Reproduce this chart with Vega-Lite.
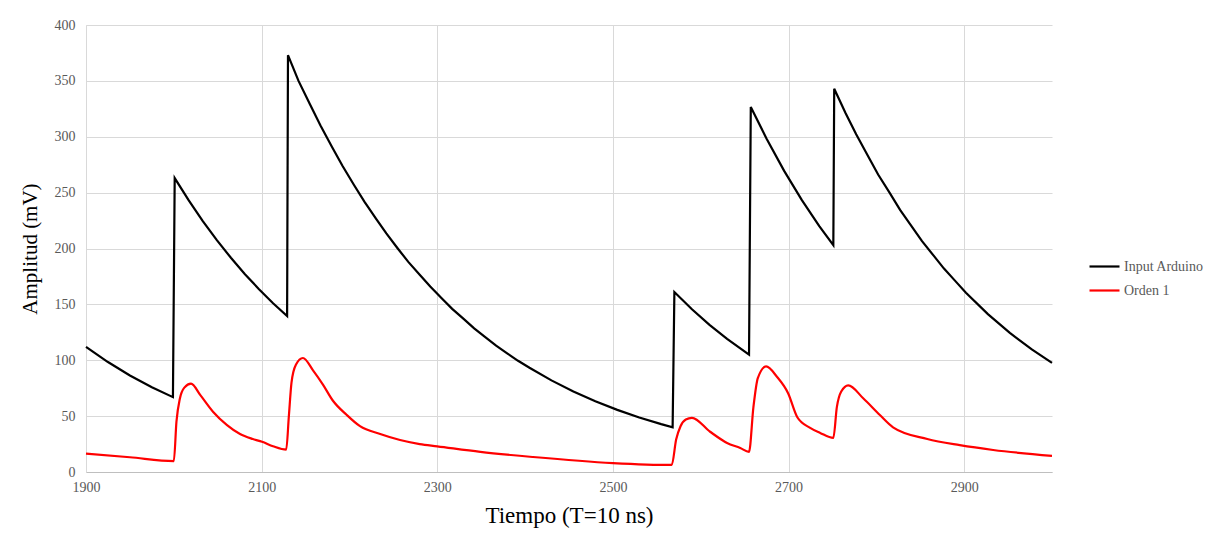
{
  "$schema": "https://vega.github.io/schema/vega-lite/v6.json",
  "autosize": "none",
  "width": 966,
  "height": 447,
  "padding": {"left": 86, "top": 25, "right": 163, "bottom": 68},
  "background": "white",
  "config": {
    "font": "Liberation Serif",
    "view": {"stroke": null}
  },
  "data": {
    "values": [
      {"t": 1900, "v": 112, "s": "Input Arduino"},
      {"t": 1925, "v": 98.4, "s": "Input Arduino"},
      {"t": 1950, "v": 86.4, "s": "Input Arduino"},
      {"t": 1975, "v": 75.9, "s": "Input Arduino"},
      {"t": 1999, "v": 67, "s": "Input Arduino"},
      {"t": 2001, "v": 263, "s": "Input Arduino"},
      {"t": 2017, "v": 243, "s": "Input Arduino"},
      {"t": 2033, "v": 224.5, "s": "Input Arduino"},
      {"t": 2049, "v": 207.5, "s": "Input Arduino"},
      {"t": 2065, "v": 191.7, "s": "Input Arduino"},
      {"t": 2081, "v": 177, "s": "Input Arduino"},
      {"t": 2097, "v": 163.6, "s": "Input Arduino"},
      {"t": 2113, "v": 151, "s": "Input Arduino"},
      {"t": 2129, "v": 139.6, "s": "Input Arduino"},
      {"t": 2130, "v": 373, "s": "Input Arduino"},
      {"t": 2142, "v": 350, "s": "Input Arduino"},
      {"t": 2155, "v": 329, "s": "Input Arduino"},
      {"t": 2167, "v": 310, "s": "Input Arduino"},
      {"t": 2180, "v": 291, "s": "Input Arduino"},
      {"t": 2192, "v": 274, "s": "Input Arduino"},
      {"t": 2205, "v": 257, "s": "Input Arduino"},
      {"t": 2217, "v": 242, "s": "Input Arduino"},
      {"t": 2230, "v": 227, "s": "Input Arduino"},
      {"t": 2242, "v": 213.5, "s": "Input Arduino"},
      {"t": 2255, "v": 200, "s": "Input Arduino"},
      {"t": 2267, "v": 188, "s": "Input Arduino"},
      {"t": 2280, "v": 176.5, "s": "Input Arduino"},
      {"t": 2292, "v": 166, "s": "Input Arduino"},
      {"t": 2305, "v": 155.5, "s": "Input Arduino"},
      {"t": 2317, "v": 146, "s": "Input Arduino"},
      {"t": 2330, "v": 137, "s": "Input Arduino"},
      {"t": 2342, "v": 128.5, "s": "Input Arduino"},
      {"t": 2355, "v": 120.5, "s": "Input Arduino"},
      {"t": 2367, "v": 113, "s": "Input Arduino"},
      {"t": 2380, "v": 106, "s": "Input Arduino"},
      {"t": 2392, "v": 99.5, "s": "Input Arduino"},
      {"t": 2405, "v": 93.3, "s": "Input Arduino"},
      {"t": 2430, "v": 82, "s": "Input Arduino"},
      {"t": 2455, "v": 72, "s": "Input Arduino"},
      {"t": 2480, "v": 63.3, "s": "Input Arduino"},
      {"t": 2505, "v": 55.6, "s": "Input Arduino"},
      {"t": 2530, "v": 48.8, "s": "Input Arduino"},
      {"t": 2555, "v": 42.8, "s": "Input Arduino"},
      {"t": 2568, "v": 40, "s": "Input Arduino"},
      {"t": 2570, "v": 161, "s": "Input Arduino"},
      {"t": 2590, "v": 145.6, "s": "Input Arduino"},
      {"t": 2610, "v": 131.7, "s": "Input Arduino"},
      {"t": 2630, "v": 119.1, "s": "Input Arduino"},
      {"t": 2655, "v": 105, "s": "Input Arduino"},
      {"t": 2657, "v": 326.6, "s": "Input Arduino"},
      {"t": 2675, "v": 298.2, "s": "Input Arduino"},
      {"t": 2695, "v": 269.5, "s": "Input Arduino"},
      {"t": 2715, "v": 243.5, "s": "Input Arduino"},
      {"t": 2735, "v": 220.1, "s": "Input Arduino"},
      {"t": 2751, "v": 203, "s": "Input Arduino"},
      {"t": 2752, "v": 343, "s": "Input Arduino"},
      {"t": 2765, "v": 321, "s": "Input Arduino"},
      {"t": 2777, "v": 302.2, "s": "Input Arduino"},
      {"t": 2790, "v": 283.5, "s": "Input Arduino"},
      {"t": 2802, "v": 266.2, "s": "Input Arduino"},
      {"t": 2815, "v": 250, "s": "Input Arduino"},
      {"t": 2827, "v": 234.5, "s": "Input Arduino"},
      {"t": 2840, "v": 220, "s": "Input Arduino"},
      {"t": 2852, "v": 206.6, "s": "Input Arduino"},
      {"t": 2865, "v": 193.8, "s": "Input Arduino"},
      {"t": 2877, "v": 182, "s": "Input Arduino"},
      {"t": 2890, "v": 170.8, "s": "Input Arduino"},
      {"t": 2902, "v": 160.4, "s": "Input Arduino"},
      {"t": 2927, "v": 141.3, "s": "Input Arduino"},
      {"t": 2952, "v": 124.5, "s": "Input Arduino"},
      {"t": 2977, "v": 109.7, "s": "Input Arduino"},
      {"t": 3000, "v": 97.6, "s": "Input Arduino"},
      {"t": 1900, "v": 16.5, "s": "Orden 1"},
      {"t": 1950, "v": 13.2, "s": "Orden 1"},
      {"t": 2000, "v": 9.8, "s": "Orden 1"},
      {"t": 2003, "v": 45, "s": "Orden 1"},
      {"t": 2007, "v": 66, "s": "Orden 1"},
      {"t": 2012, "v": 75.5, "s": "Orden 1"},
      {"t": 2019.6, "v": 79, "s": "Orden 1"},
      {"t": 2030, "v": 69, "s": "Orden 1"},
      {"t": 2044.6, "v": 54, "s": "Orden 1"},
      {"t": 2060.6, "v": 42, "s": "Orden 1"},
      {"t": 2075.4, "v": 34, "s": "Orden 1"},
      {"t": 2090, "v": 29.5, "s": "Orden 1"},
      {"t": 2100.5, "v": 27, "s": "Orden 1"},
      {"t": 2113, "v": 23, "s": "Orden 1"},
      {"t": 2128, "v": 20, "s": "Orden 1"},
      {"t": 2131, "v": 50, "s": "Orden 1"},
      {"t": 2134, "v": 80, "s": "Orden 1"},
      {"t": 2139, "v": 96, "s": "Orden 1"},
      {"t": 2147, "v": 102, "s": "Orden 1"},
      {"t": 2158.5, "v": 91, "s": "Orden 1"},
      {"t": 2170, "v": 78, "s": "Orden 1"},
      {"t": 2181, "v": 64, "s": "Orden 1"},
      {"t": 2197, "v": 51, "s": "Orden 1"},
      {"t": 2212, "v": 41, "s": "Orden 1"},
      {"t": 2235, "v": 34, "s": "Orden 1"},
      {"t": 2257.6, "v": 28.6, "s": "Orden 1"},
      {"t": 2280, "v": 25, "s": "Orden 1"},
      {"t": 2300, "v": 23, "s": "Orden 1"},
      {"t": 2349, "v": 18, "s": "Orden 1"},
      {"t": 2409, "v": 13.4, "s": "Orden 1"},
      {"t": 2500, "v": 8, "s": "Orden 1"},
      {"t": 2567, "v": 6.3, "s": "Orden 1"},
      {"t": 2572, "v": 29, "s": "Orden 1"},
      {"t": 2577, "v": 41, "s": "Orden 1"},
      {"t": 2583, "v": 47, "s": "Orden 1"},
      {"t": 2590, "v": 48.5, "s": "Orden 1"},
      {"t": 2610.7, "v": 36, "s": "Orden 1"},
      {"t": 2630, "v": 26, "s": "Orden 1"},
      {"t": 2645, "v": 21.5, "s": "Orden 1"},
      {"t": 2655, "v": 18, "s": "Orden 1"},
      {"t": 2660, "v": 58, "s": "Orden 1"},
      {"t": 2665, "v": 84, "s": "Orden 1"},
      {"t": 2674.5, "v": 94.5, "s": "Orden 1"},
      {"t": 2687, "v": 85, "s": "Orden 1"},
      {"t": 2699.5, "v": 70.5, "s": "Orden 1"},
      {"t": 2710, "v": 49, "s": "Orden 1"},
      {"t": 2724.6, "v": 39.5, "s": "Orden 1"},
      {"t": 2736, "v": 35, "s": "Orden 1"},
      {"t": 2751, "v": 30.5, "s": "Orden 1"},
      {"t": 2755, "v": 58, "s": "Orden 1"},
      {"t": 2760, "v": 72, "s": "Orden 1"},
      {"t": 2768, "v": 77.5, "s": "Orden 1"},
      {"t": 2785, "v": 66, "s": "Orden 1"},
      {"t": 2804, "v": 51, "s": "Orden 1"},
      {"t": 2819, "v": 40, "s": "Orden 1"},
      {"t": 2858, "v": 29.5, "s": "Orden 1"},
      {"t": 2895, "v": 24, "s": "Orden 1"},
      {"t": 2933, "v": 19.7, "s": "Orden 1"},
      {"t": 3000, "v": 14.5, "s": "Orden 1"}
    ]
  },
  "encoding": {
    "x": {
      "field": "t",
      "type": "quantitative",
      "scale": {"domain": [1900, 3000], "nice": false, "zero": false},
      "axis": {
        "values": [1900, 2100, 2300, 2500, 2700, 2900],
        "format": "d",
        "labelFlush": false,
        "title": "Tiempo (T=10 ns)",
        "titleFont": "Liberation Serif",
        "titleFontSize": 23,
        "titleFontWeight": "normal",
        "titleColor": "#000000",
        "titlePadding": 10,
        "labelFont": "Liberation Serif",
        "labelFontSize": 14,
        "labelColor": "#595959",
        "labelPadding": 8,
        "ticks": false,
        "domainColor": "#bfbfbf",
        "domainWidth": 1,
        "gridColor": "#d9d9d9",
        "gridWidth": 1
      }
    },
    "y": {
      "field": "v",
      "type": "quantitative",
      "scale": {"domain": [0, 400], "nice": false},
      "axis": {
        "values": [0, 50, 100, 150, 200, 250, 300, 350, 400],
        "format": "d",
        "title": "Amplitud (mV)",
        "titleFont": "Liberation Serif",
        "titleFontSize": 21,
        "titleFontWeight": "normal",
        "titleColor": "#000000",
        "titlePadding": 14,
        "labelFont": "Liberation Serif",
        "labelFontSize": 14,
        "labelColor": "#595959",
        "labelPadding": 11,
        "ticks": false,
        "domainColor": "#d9d9d9",
        "gridColor": "#d9d9d9",
        "gridWidth": 1
      }
    },
    "color": {
      "field": "s",
      "type": "nominal",
      "scale": {"domain": ["Input Arduino", "Orden 1"], "range": ["#000000", "#ff0000"]},
      "legend": {
        "title": null,
        "orient": "none",
        "legendX": 1002,
        "legendY": 225,
        "symbolType": "stroke",
        "symbolSize": 900,
        "symbolStrokeWidth": 2.2,
        "labelFont": "Liberation Serif",
        "labelFontSize": 14,
        "labelColor": "#595959",
        "labelOffset": 3,
        "rowPadding": -5
      }
    }
  },
  "layer": [
    {
      "transform": [{"filter": "datum.s === 'Input Arduino'"}],
      "mark": {"type": "line", "strokeWidth": 2.2, "interpolate": "linear", "strokeJoin": "miter"}
    },
    {
      "transform": [{"filter": "datum.s === 'Orden 1'"}],
      "mark": {"type": "line", "strokeWidth": 2.2, "interpolate": "monotone"}
    }
  ]
}
